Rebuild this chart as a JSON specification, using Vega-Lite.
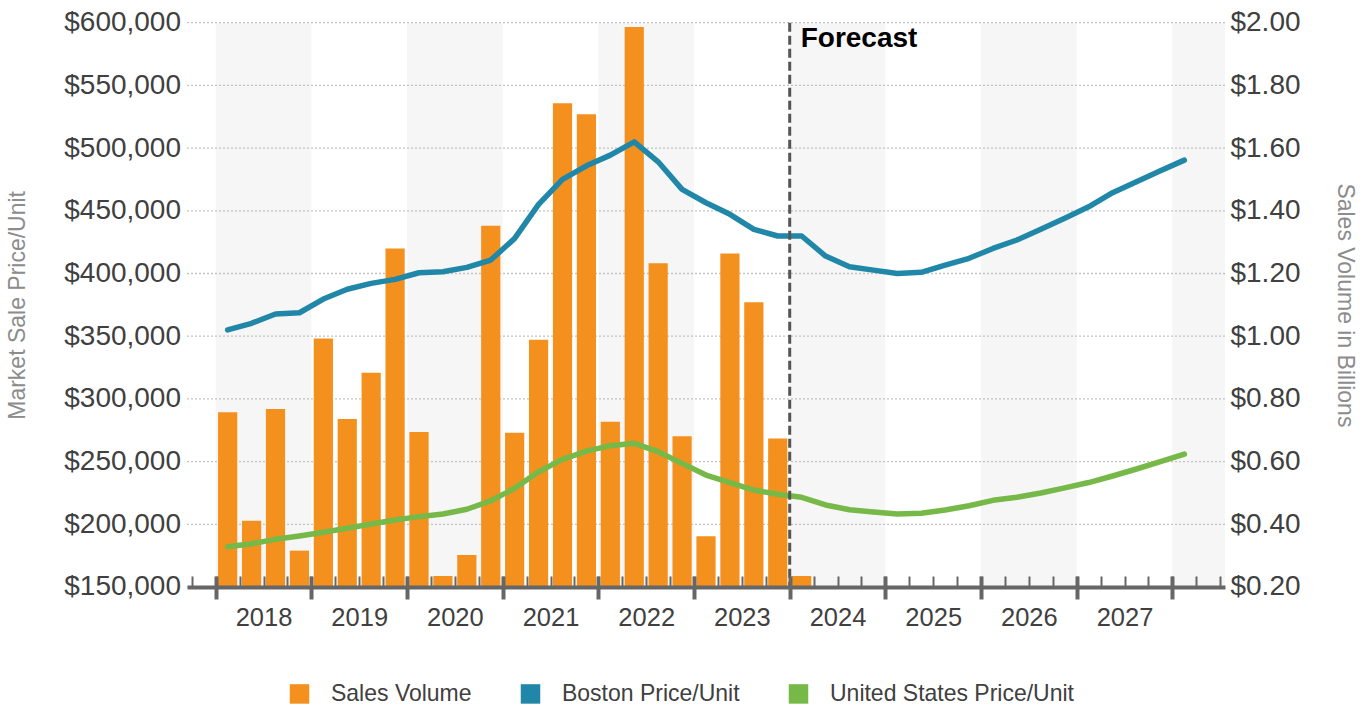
{
  "$schema": "https://vega.github.io/schema/vega-lite/v6.json",
  "width": 1038,
  "height": 564.3,
  "autosize": "none",
  "padding": {"left": 187, "top": 22.7, "right": 144, "bottom": 121.7},
  "background": "#ffffff",
  "config": {
    "view": {"stroke": null},
    "font": "Liberation Sans",
    "axis": {"labelFont": "Liberation Sans", "titleFont": "Liberation Sans"},
    "legend": {"labelFont": "Liberation Sans"}
  },
  "datasets": {
    "bands": [
      {"start": 2018, "end": 2019},
      {"start": 2020, "end": 2021},
      {"start": 2022, "end": 2023},
      {"start": 2024, "end": 2025},
      {"start": 2026, "end": 2027},
      {"start": 2028, "end": 2028.55}
    ],
    "gridLevels": [
      {"level": 150000}, {"level": 200000}, {"level": 250000}, {"level": 300000},
      {"level": 350000}, {"level": 400000}, {"level": 450000}, {"level": 500000},
      {"level": 550000}, {"level": 600000}
    ],
    "volume": [
      {"t": 2018.125, "volume": 0.757},
      {"t": 2018.375, "volume": 0.411},
      {"t": 2018.625, "volume": 0.768},
      {"t": 2018.875, "volume": 0.316},
      {"t": 2019.125, "volume": 0.993},
      {"t": 2019.375, "volume": 0.736},
      {"t": 2019.625, "volume": 0.883},
      {"t": 2019.875, "volume": 1.280},
      {"t": 2020.125, "volume": 0.694},
      {"t": 2020.375, "volume": 0.235},
      {"t": 2020.625, "volume": 0.302},
      {"t": 2020.875, "volume": 1.352},
      {"t": 2021.125, "volume": 0.692},
      {"t": 2021.375, "volume": 0.989},
      {"t": 2021.625, "volume": 1.743},
      {"t": 2021.875, "volume": 1.708},
      {"t": 2022.125, "volume": 0.727},
      {"t": 2022.375, "volume": 1.986},
      {"t": 2022.625, "volume": 1.233},
      {"t": 2022.875, "volume": 0.681},
      {"t": 2023.125, "volume": 0.362},
      {"t": 2023.375, "volume": 1.264},
      {"t": 2023.625, "volume": 1.108},
      {"t": 2023.875, "volume": 0.674},
      {"t": 2024.125, "volume": 0.235}
    ],
    "prices": [
      {"t": 2018.125, "series": "Boston Price/Unit", "price": 355000},
      {"t": 2018.375, "series": "Boston Price/Unit", "price": 360300},
      {"t": 2018.625, "series": "Boston Price/Unit", "price": 367700},
      {"t": 2018.875, "series": "Boston Price/Unit", "price": 368700},
      {"t": 2019.125, "series": "Boston Price/Unit", "price": 379600},
      {"t": 2019.375, "series": "Boston Price/Unit", "price": 387400},
      {"t": 2019.625, "series": "Boston Price/Unit", "price": 392100},
      {"t": 2019.875, "series": "Boston Price/Unit", "price": 395300},
      {"t": 2020.125, "series": "Boston Price/Unit", "price": 400600},
      {"t": 2020.375, "series": "Boston Price/Unit", "price": 401400},
      {"t": 2020.625, "series": "Boston Price/Unit", "price": 404900},
      {"t": 2020.875, "series": "Boston Price/Unit", "price": 410700},
      {"t": 2021.125, "series": "Boston Price/Unit", "price": 428000},
      {"t": 2021.375, "series": "Boston Price/Unit", "price": 455100},
      {"t": 2021.625, "series": "Boston Price/Unit", "price": 475100},
      {"t": 2021.875, "series": "Boston Price/Unit", "price": 485900},
      {"t": 2022.125, "series": "Boston Price/Unit", "price": 494400},
      {"t": 2022.375, "series": "Boston Price/Unit", "price": 505000},
      {"t": 2022.625, "series": "Boston Price/Unit", "price": 489100},
      {"t": 2022.875, "series": "Boston Price/Unit", "price": 467100},
      {"t": 2023.125, "series": "Boston Price/Unit", "price": 456400},
      {"t": 2023.375, "series": "Boston Price/Unit", "price": 447200},
      {"t": 2023.625, "series": "Boston Price/Unit", "price": 435200},
      {"t": 2023.875, "series": "Boston Price/Unit", "price": 429900},
      {"t": 2024.125, "series": "Boston Price/Unit", "price": 429900},
      {"t": 2024.375, "series": "Boston Price/Unit", "price": 413900},
      {"t": 2024.625, "series": "Boston Price/Unit", "price": 405400},
      {"t": 2024.875, "series": "Boston Price/Unit", "price": 402700},
      {"t": 2025.125, "series": "Boston Price/Unit", "price": 400000},
      {"t": 2025.375, "series": "Boston Price/Unit", "price": 400900},
      {"t": 2025.625, "series": "Boston Price/Unit", "price": 406700},
      {"t": 2025.875, "series": "Boston Price/Unit", "price": 412100},
      {"t": 2026.125, "series": "Boston Price/Unit", "price": 420000},
      {"t": 2026.375, "series": "Boston Price/Unit", "price": 426700},
      {"t": 2026.625, "series": "Boston Price/Unit", "price": 435200},
      {"t": 2026.875, "series": "Boston Price/Unit", "price": 444000},
      {"t": 2027.125, "series": "Boston Price/Unit", "price": 453200},
      {"t": 2027.375, "series": "Boston Price/Unit", "price": 464400},
      {"t": 2027.625, "series": "Boston Price/Unit", "price": 473100},
      {"t": 2027.875, "series": "Boston Price/Unit", "price": 481900},
      {"t": 2028.125, "series": "Boston Price/Unit", "price": 490400},
      {"t": 2018.125, "series": "United States Price/Unit", "price": 182100},
      {"t": 2018.375, "series": "United States Price/Unit", "price": 184500},
      {"t": 2018.625, "series": "United States Price/Unit", "price": 188000},
      {"t": 2018.875, "series": "United States Price/Unit", "price": 190700},
      {"t": 2019.125, "series": "United States Price/Unit", "price": 193600},
      {"t": 2019.375, "series": "United States Price/Unit", "price": 196800},
      {"t": 2019.625, "series": "United States Price/Unit", "price": 200200},
      {"t": 2019.875, "series": "United States Price/Unit", "price": 203400},
      {"t": 2020.125, "series": "United States Price/Unit", "price": 206100},
      {"t": 2020.375, "series": "United States Price/Unit", "price": 208200},
      {"t": 2020.625, "series": "United States Price/Unit", "price": 212000},
      {"t": 2020.875, "series": "United States Price/Unit", "price": 218800},
      {"t": 2021.125, "series": "United States Price/Unit", "price": 228700},
      {"t": 2021.375, "series": "United States Price/Unit", "price": 241900},
      {"t": 2021.625, "series": "United States Price/Unit", "price": 251800},
      {"t": 2021.875, "series": "United States Price/Unit", "price": 258400},
      {"t": 2022.125, "series": "United States Price/Unit", "price": 262700},
      {"t": 2022.375, "series": "United States Price/Unit", "price": 264600},
      {"t": 2022.625, "series": "United States Price/Unit", "price": 257900},
      {"t": 2022.875, "series": "United States Price/Unit", "price": 248600},
      {"t": 2023.125, "series": "United States Price/Unit", "price": 239300},
      {"t": 2023.375, "series": "United States Price/Unit", "price": 233200},
      {"t": 2023.625, "series": "United States Price/Unit", "price": 227300},
      {"t": 2023.875, "series": "United States Price/Unit", "price": 223900},
      {"t": 2024.125, "series": "United States Price/Unit", "price": 221500},
      {"t": 2024.375, "series": "United States Price/Unit", "price": 215400},
      {"t": 2024.625, "series": "United States Price/Unit", "price": 211600},
      {"t": 2024.875, "series": "United States Price/Unit", "price": 209800},
      {"t": 2025.125, "series": "United States Price/Unit", "price": 208200},
      {"t": 2025.375, "series": "United States Price/Unit", "price": 208800},
      {"t": 2025.625, "series": "United States Price/Unit", "price": 211400},
      {"t": 2025.875, "series": "United States Price/Unit", "price": 214800},
      {"t": 2026.125, "series": "United States Price/Unit", "price": 219100},
      {"t": 2026.375, "series": "United States Price/Unit", "price": 221600},
      {"t": 2026.625, "series": "United States Price/Unit", "price": 225000},
      {"t": 2026.875, "series": "United States Price/Unit", "price": 229000},
      {"t": 2027.125, "series": "United States Price/Unit", "price": 233300},
      {"t": 2027.375, "series": "United States Price/Unit", "price": 238500},
      {"t": 2027.625, "series": "United States Price/Unit", "price": 244100},
      {"t": 2027.875, "series": "United States Price/Unit", "price": 250000},
      {"t": 2028.125, "series": "United States Price/Unit", "price": 256000}
    ],
    "forecast": [
      {"t": 2024, "label": "Forecast"}
    ]
  },
  "layer": [
    {
      "data": {"name": "bands"},
      "mark": {"type": "rect", "color": "#f6f6f6"},
      "encoding": {
        "x": {
          "field": "start",
          "type": "quantitative",
          "scale": {"domain": [2017.7, 2028.55], "nice": false, "zero": false, "padding": 0},
          "axis": {
            "orient": "bottom",
            "zindex": 1,
            "title": null,
            "values": [2018, 2019, 2020, 2021, 2022, 2023, 2024, 2025, 2026, 2027],
            "format": "d",
            "labelOffset": 47.83,
            "ticks": false,
            "grid": false,
            "domain": true,
            "domainColor": "#666666",
            "domainWidth": 4,
            "labelFontSize": 25.5,
            "labelColor": "#404040",
            "labelPadding": 19,
            "labelOverlap": false,
            "labelFlush": false,
            "labelBound": false
          }
        },
        "x2": {"field": "end"}
      }
    },
    {
      "data": {"name": "gridLevels"},
      "mark": {"type": "rule", "color": "#c2c2c2", "strokeDash": [2, 2], "strokeWidth": 1.3},
      "encoding": {
        "y": {
          "field": "level",
          "type": "quantitative",
          "scale": {"domain": [150000, 600000], "nice": false, "zero": false, "padding": 0},
          "axis": null
        }
      }
    },
    {
      "data": {"name": "volume"},
      "mark": {"type": "bar", "width": 19.2},
      "encoding": {
        "x": {
          "field": "t",
          "type": "quantitative",
          "scale": {"domain": [2017.7, 2028.55], "nice": false, "zero": false, "padding": 0},
          "axis": {
            "orient": "bottom",
            "zindex": 1,
            "title": null,
            "values": [2018, 2019, 2020, 2021, 2022, 2023, 2024, 2025, 2026, 2027, 2028],
            "labels": false,
            "domain": false,
            "grid": false,
            "ticks": true,
            "tickSize": 23,
            "tickWidth": 4,
            "tickColor": "#666666",
            "offset": -11
          }
        },
        "y": {
          "field": "volume",
          "type": "quantitative",
          "scale": {"domain": [0.2, 2.0], "nice": false, "zero": false, "padding": 0},
          "axis": {
            "orient": "right",
            "values": [0.2, 0.4, 0.6, 0.8, 1.0, 1.2, 1.4, 1.6, 1.8, 2.0],
            "format": "$.2f",
            "ticks": false,
            "domain": false,
            "grid": false,
            "labelFontSize": 28,
            "labelColor": "#404040",
            "labelPadding": 5,
            "title": "Sales Volume in Billions",
            "titleFontSize": 23,
            "titleFontWeight": "normal",
            "titleColor": "#8c8c8c",
            "titleAngle": 90,
            "titleX": 120,
            "titleY": 282.2,
            "titleAlign": "center",
            "titleBaseline": "middle"
          }
        },
        "y2": {"datum": 0.2},
        "color": {
          "datum": "Sales Volume",
          "type": "nominal",
          "scale": {
            "domain": ["Sales Volume", "Boston Price/Unit", "United States Price/Unit"],
            "range": ["#f3901e", "#2187a8", "#77b948"]
          },
          "legend": {
            "orient": "none",
            "legendX": 101,
            "legendY": 659.5,
            "direction": "horizontal",
            "title": null,
            "symbolType": "square",
            "symbolSize": 380,
            "symbolStrokeWidth": 0,
            "symbolOpacity": 1,
            "labelFontSize": 23,
            "labelColor": "#404040",
            "labelLimit": 600,
            "labelOffset": 20,
            "columnPadding": 47,
            "padding": 0,
            "offset": 0
          }
        }
      }
    },
    {
      "data": {"name": "prices"},
      "mark": {"type": "line", "strokeWidth": 5.5, "strokeCap": "round", "strokeJoin": "round"},
      "encoding": {
        "x": {
          "field": "t",
          "type": "quantitative",
          "scale": {"domain": [2017.7, 2028.55], "nice": false, "zero": false, "padding": 0},
          "axis": {
            "orient": "bottom",
            "zindex": 1,
            "title": null,
            "values": [2017.75, 2018, 2018.25, 2018.5, 2018.75, 2019, 2019.25, 2019.5, 2019.75, 2020, 2020.25, 2020.5, 2020.75, 2021, 2021.25, 2021.5, 2021.75, 2022, 2022.25, 2022.5, 2022.75, 2023, 2023.25, 2023.5, 2023.75, 2024, 2024.25, 2024.5, 2024.75, 2025, 2025.25, 2025.5, 2025.75, 2026, 2026.25, 2026.5, 2026.75, 2027, 2027.25, 2027.5, 2027.75, 2028, 2028.25, 2028.5],
            "labels": false,
            "domain": false,
            "grid": false,
            "ticks": true,
            "tickSize": 11,
            "tickWidth": 2,
            "tickColor": "#666666",
            "offset": -11
          }
        },
        "y": {
          "field": "price",
          "type": "quantitative",
          "scale": {"domain": [150000, 600000], "nice": false, "zero": false, "padding": 0},
          "axis": {
            "orient": "left",
            "values": [150000, 200000, 250000, 300000, 350000, 400000, 450000, 500000, 550000, 600000],
            "format": "$,.0f",
            "ticks": false,
            "domain": false,
            "grid": false,
            "labelFontSize": 28,
            "labelColor": "#404040",
            "labelPadding": 6.5,
            "title": "Market Sale Price/Unit",
            "titleFontSize": 23,
            "titleFontWeight": "normal",
            "titleColor": "#8c8c8c",
            "titleAngle": -90,
            "titleX": -169.5,
            "titleY": 282.2,
            "titleAlign": "center",
            "titleBaseline": "middle"
          }
        },
        "color": {"field": "series", "type": "nominal", "legend": null}
      }
    },
    {
      "data": {"name": "forecast"},
      "layer": [
        {
          "mark": {"type": "rule", "color": "#555555", "strokeWidth": 3, "strokeDash": [9, 4]},
          "encoding": {
            "x": {
              "field": "t",
              "type": "quantitative",
              "scale": {"domain": [2017.7, 2028.55], "nice": false, "zero": false, "padding": 0},
              "axis": null
            }
          }
        },
        {
          "mark": {"type": "text", "align": "left", "baseline": "alphabetic", "dx": 11, "dy": 24.6, "fontSize": 28, "fontWeight": "bold", "color": "#000000"},
          "encoding": {
            "x": {
              "field": "t",
              "type": "quantitative",
              "scale": {"domain": [2017.7, 2028.55], "nice": false, "zero": false, "padding": 0},
              "axis": null
            },
            "y": {
              "datum": 600000,
              "type": "quantitative",
              "scale": {"domain": [150000, 600000], "nice": false, "zero": false, "padding": 0},
              "axis": null
            },
            "text": {"field": "label"}
          }
        }
      ]
    }
  ],
  "resolve": {
    "scale": {"y": "independent"},
    "axis": {"x": "independent", "y": "independent"}
  }
}
